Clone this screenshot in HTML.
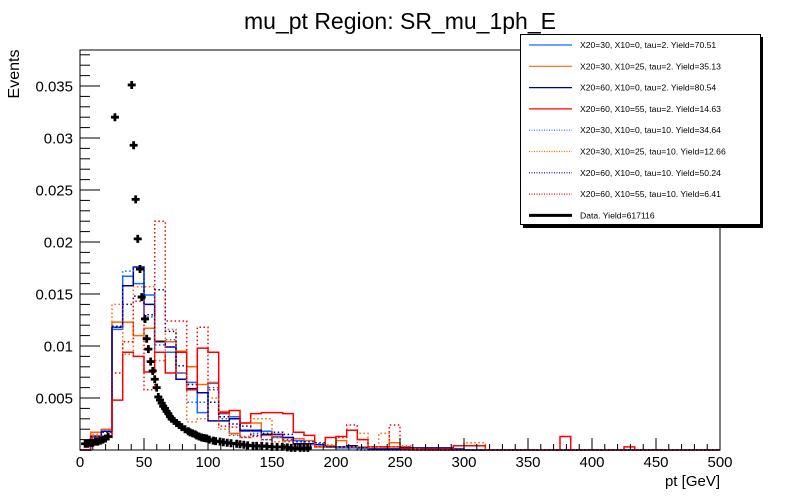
<!DOCTYPE html>
<html><head><meta charset="utf-8"><style>
body{margin:0;background:#fff;}
svg{display:block;font-family:"Liberation Sans",sans-serif;}
</style></head><body>
<svg id="chart" width="800" height="500" viewBox="0 0 800 500" xmlns="http://www.w3.org/2000/svg">
<rect x="0" y="0" width="800" height="500" fill="#fff"/>
<text x="400" y="29" font-size="23" text-anchor="middle">mu_pt Region: SR_mu_1ph_E</text>
<text x="0" y="0" font-size="16" text-anchor="middle" transform="translate(19,74) rotate(-90)">Events</text>
<text x="720" y="486" font-size="15" text-anchor="end">pt [GeV]</text>
<g id="plot"></g>
<g id="axes"></g>
<g id="legend"></g>
</svg>
<script>
// data (values in units of 1e-3), 60 bins of width 500/60 GeV
const binEdgesMin = 0, binEdgesMax = 500, nBins = 60;
const sigLb2  = [0,1.25,2.0,11.6,16.7,16.0,14.9,9.4,9.4,7.4,6.5,3.6,6.4,3.5,3.2,1.8,1.8,1.8,1.3,1.2,0.9,0.6,0.5,0.3,0.2,0.2,0.2,0.1,0.1,0.1,0.1,0.1];
const sigOr2  = [0,1.7,2.0,12.3,12.3,11.0,11.7,10.5,10.4,9.5,8.0,6.3,6.5,3.7,1.6,2.6,2.6,1.4,1.2,0.9,1.1,0.9,0.5,0.4,0.9,0.3,0.3,0.3,0.3,0.7,0.3];
const sigNv2  = [0,1.0,1.8,11.8,15.8,17.6,14.0,10.4,9.9,6.8,5.9,5.5,2.8,2.8,3.0,1.9,1.9,1.5,1.5,1.2,0.6,0.6,0.5,0.3,0.3,0.4,0.2,0.1,0.1,0.1,0.2,0.2,0.2,0.2,0.2,0.1];
const sigRd2  = [0,1.35,1.25,4.8,9.4,9.0,7.5,9.4,7.4,9.4,5.8,9.8,9.4,3.6,3.8,2.6,3.5,3.6,3.6,3.5,1.7,1.4,0.3,1.2,1.3,1.9,1.0,0.3,0.3,0.3,0.1,0.1,0.1,0.1,0.1,0.4,0.4,0.4,0,0,0,0,0,0,0,1.3,0,0,0,0,0,0.3];
const sigLb10 = [0,1.2,1.9,11.8,17.2,17.6,12.8,10.1,10.6,7.4,4.6,4.6,6.0,3.0,1.4,1.3,1.6,1.0,1.2,0.8,0.9,0.5,0.6,0.3,0.2,0.3,0.2];
const sigOr10 = [0,1.5,1.7,14.0,9.2,15.7,15.7,8.6,11.6,7.4,2.7,3.0,5.0,2.0,1.5,1.2,3.0,3.0,0.8,0.5,0.5,0.4,0.3,0.5,0.3,0.3,1.6,0.3,1.6,0.3,0.4,0.1,0,0,0,0,0.7,0.7];
const sigNv10 = [0,1.3,1.7,11.9,14.0,14.8,13.0,15.4,11.4,8.1,6.3,5.5,4.6,3.2,2.5,2.3,1.4,1.6,1.7,1.5,0.8,0.8,0.7,0.3,0.3,0.3];
const sigRd10 = [0,1.2,1.2,7.4,10.4,14.3,5.8,22.0,12.4,12.4,5.8,11.8,5.8,2.3,2.2,1.2,1.3,1.0,1.5,1.0,0.5,0.5,0.3,0.3,1.2,2.4,1.0,0.3,0.3,2.4,0.3];
const dataX = [4,6,8,10,12,14,16,18,20,22,27.3,40.4,41.9,43.5,45.1,46.9,48.2,50.8,52.1,53.4,55.2,56.8,58.4,59.9,61.2,62.5,63.8,65,66.4,67.7,69,70.3,71.6,73.5,75.5,77.5,79.5,82,84.6,86,88,90,91.2,93,95,97,99,101,104,106,109.4,112,115,118,122.4,125,128,131,135.2,138,142,146,150,154,158,162,165,168,172,175,178];
const dataY = [0.6,0.6,0.7,0.7,0.8,0.8,0.9,1.0,1.1,1.3,32.0,35.1,29.3,24.1,20.3,17.4,14.7,12.6,10.7,9.7,8.5,7.6,6.8,6.0,5.1,4.8,4.5,4.2,4.0,3.7,3.5,3.2,3.0,2.8,2.6,2.4,2.2,2.0,1.8,1.7,1.6,1.5,1.4,1.3,1.2,1.15,1.1,1.0,0.9,0.85,0.8,0.75,0.7,0.65,0.6,0.55,0.5,0.45,0.4,0.4,0.4,0.35,0.3,0.3,0.3,0.25,0.2,0.2,0.2,0.2,0.2];
const yTicks = [0.005,0.01,0.015,0.02,0.025,0.03,0.035];
const yTickLabels = ["0.005","0.01","0.015","0.02","0.025","0.03","0.035"];
const xTicks = [0,50,100,150,200,250,300,350,400,450,500];
const legendLabels = ["X20=30, X10=0, tau=2. Yield=70.51","X20=30, X10=25, tau=2. Yield=35.13","X20=60, X10=0, tau=2. Yield=80.54","X20=60, X10=55, tau=2. Yield=14.63","X20=30, X10=0, tau=10. Yield=34.64","X20=30, X10=25, tau=10. Yield=12.66","X20=60, X10=0, tau=10. Yield=50.24","X20=60, X10=55, tau=10. Yield=6.41","Data. Yield=617116"];

const NS="http://www.w3.org/2000/svg";
const L=80,R=720,T=50,B=450;
const xs=v=>L+(v-binEdgesMin)/(binEdgesMax-binEdgesMin)*(R-L);
const ys=v=>B-v*10400;
function mk(tag,attrs,parent){const e=document.createElementNS(NS,tag);for(const k in attrs)e.setAttribute(k,attrs[k]);parent.appendChild(e);return e;}
const plot=document.getElementById('plot'),axes=document.getElementById('axes'),leg=document.getElementById('legend');

const series=[
 {v:sigLb2,c:"#1a66ff",d:null,n:"hist-x20-30-x10-0-tau2"},
 {v:sigOr2,c:"#ff6600",d:null,n:"hist-x20-30-x10-25-tau2"},
 {v:sigNv2,c:"#000099",d:null,n:"hist-x20-60-x10-0-tau2"},
 {v:sigRd2,c:"#ff0000",d:null,n:"hist-x20-60-x10-55-tau2"},
 {v:sigLb10,c:"#1a66ff",d:"1.5,2.5",n:"hist-x20-30-x10-0-tau10"},
 {v:sigOr10,c:"#ff6600",d:"1.5,2.5",n:"hist-x20-30-x10-25-tau10"},
 {v:sigNv10,c:"#000099",d:"1.5,2.5",n:"hist-x20-60-x10-0-tau10"},
 {v:sigRd10,c:"#ff0000",d:"1.5,2.5",n:"hist-x20-60-x10-55-tau10"}
];
const bw=(binEdgesMax-binEdgesMin)/nBins;
series.forEach(s=>{
  let d="M"+xs(0)+","+B;
  for(let i=0;i<nBins;i++){const v=(s.v[i]||0)*1e-3;d+=" V"+ys(v).toFixed(1)+" H"+xs((i+1)*bw).toFixed(1);}
  d+=" V"+B;
  const p=mk('path',{d:d,fill:"none",stroke:s.c,"stroke-width":1.5},plot);
  if(s.d)p.setAttribute('stroke-dasharray',s.d);
  
  
});
const dg=mk('g',{},plot);


dataX.forEach((x,i)=>{
  const cx=xs(x),cy=ys(dataY[i]*1e-3);
  const p=mk('path',{d:`M${cx-4},${cy-1.4}h2.6v-2.6h2.8v2.6h2.6v2.8h-2.6v2.6h-2.8v-2.6h-2.6z`,fill:"#000"},dg);
  
  
});
const fr=mk('rect',{x:L,y:T,width:R-L,height:B-T,fill:"none",stroke:"#000","stroke-width":1},axes);


for(let k=1;k*0.001<=0.0385;k++){const y=ys(k*0.001);const len=(k%5===0)?20:10;mk('line',{x1:L,x2:L+len,y1:y,y2:y,stroke:"#000"},axes);}
yTicks.forEach((t,i)=>{const tx=mk('text',{x:73,y:ys(t)+5.5,"font-size":15,"text-anchor":"end"},axes);tx.textContent=yTickLabels[i];
 
 });
for(let g=0;g<=500;g+=10){const x=xs(g);const len=(g%50===0)?12:6;mk('line',{x1:x,x2:x,y1:B,y2:B-len,stroke:"#000"},axes);}
xTicks.forEach(t=>{const tx=mk('text',{x:xs(t),y:467,"font-size":15,"text-anchor":"middle"},axes);tx.textContent=String(t);
 
 });
mk('rect',{x:523,y:37,width:240,height:191,fill:"#000"},leg);
const lb=mk('rect',{x:520.5,y:34.5,width:240,height:190,fill:"#fff",stroke:"#000","stroke-width":1},leg);


legendLabels.forEach((lab,i)=>{
  const y=45+i*21.3;
  const g=mk('g',{},leg);
  
  
  if(i<8){const s=series[i];const ln=mk('line',{x1:529,x2:572,y1:y,y2:y,stroke:s.c,"stroke-width":1.2},g);if(s.d)ln.setAttribute('stroke-dasharray','1,1.5');}
  else mk('line',{x1:529,x2:572,y1:y,y2:y,stroke:"#000","stroke-width":3},g);
  const t=mk('text',{x:580,y:y+3,"font-size":8.6},g);t.textContent=lab;
});
</script>
</body></html>
